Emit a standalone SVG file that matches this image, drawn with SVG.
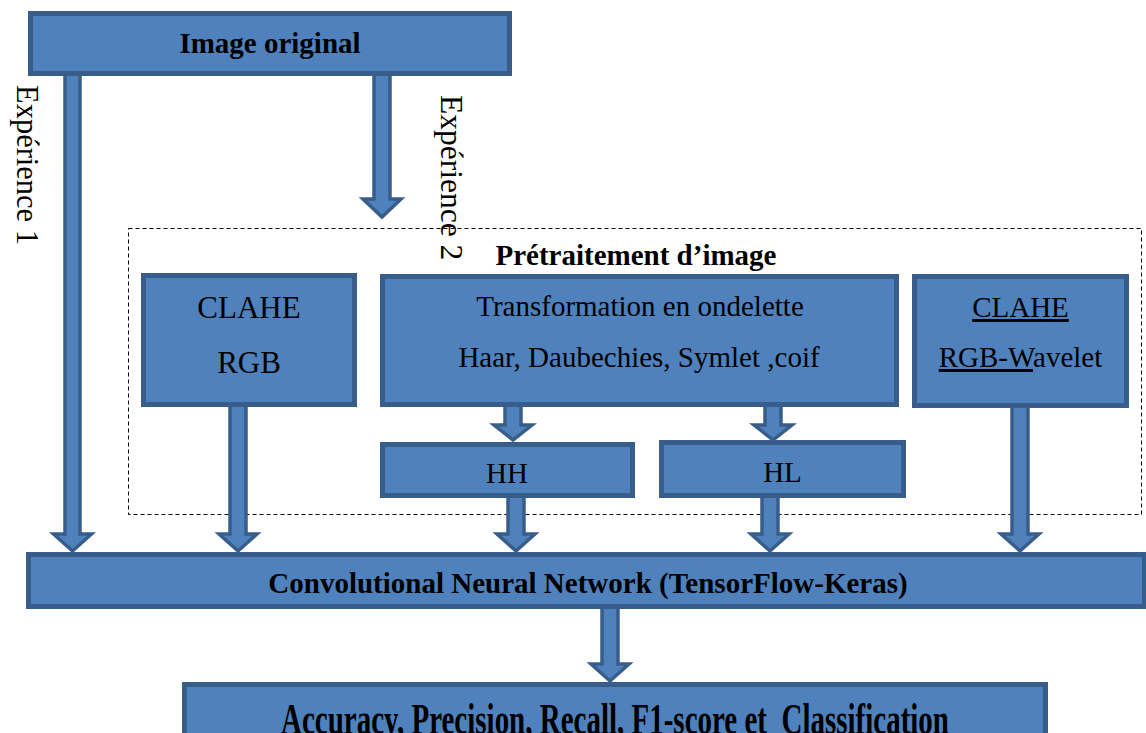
<svg xmlns="http://www.w3.org/2000/svg" width="1146" height="733" viewBox="0 0 1146 733">
<defs>
<style>
.box{fill:#4F81BD;stroke:#385D8A;stroke-width:5}
.arr{fill:#4F81BD;stroke:#385D8A;stroke-width:3.5;stroke-linejoin:miter}
.t{font-family:"Liberation Serif","Times New Roman",serif;fill:#000;text-anchor:middle}
.b{font-weight:bold;font-size:29px}
.r{font-size:29px}
.v{font-family:"Liberation Serif","Times New Roman",serif;font-size:30.5px;fill:#000}
</style>
</defs>
<rect width="1146" height="733" fill="#fff"/>
<g id="preprocessing-group">
<rect x="128.5" y="228.5" width="1013" height="286" fill="none" stroke="#000" stroke-width="1" stroke-dasharray="4,3"/>
<text class="t b" x="636" y="265">Prétraitement d’image</text>
</g>
<g id="connectors">
<path class="arr" d="M65,74 H80 V534 H91.5 L72.5,551 L53.5,534 H65 Z"/>
<path class="arr" d="M374,74 H390 V199 H401 L382,217 L363,199 H374 Z"/>
<path class="arr" d="M230,405 H246 V534 H257 L238,551 L219,534 H230 Z"/>
<path class="arr" d="M505,405 H521 V425 H532 L513,440 L494,425 H505 Z"/>
<path class="arr" d="M765,405 H781 V425 H792 L773,440 L754,425 H765 Z"/>
<path class="arr" d="M508,496 H524 V534 H535 L516,551 L497,534 H508 Z"/>
<path class="arr" d="M762,496 H778 V534 H789 L770,551 L751,534 H762 Z"/>
<path class="arr" d="M1012,406 H1028 V534 H1039 L1020,551 L1001,534 H1012 Z"/>
<path class="arr" d="M602,604 H618 V664 H629 L610,681 L591,664 H602 Z"/>
<text class="v" transform="translate(17,85) rotate(90)">Expérience 1</text>
<text class="v" transform="translate(441,95) rotate(90)" style="font-size:31.5px">Expérience 2</text>
</g>
<g id="image-original">
<rect class="box" x="30.5" y="13.5" width="479" height="60"/>
<text class="t b" x="270" y="53">Image original</text>
</g>
<g id="clahe-rgb">
<rect class="box" x="143.5" y="275.5" width="211" height="129"/>
<text class="t" x="249" y="318" style="font-size:31px">CLAHE</text>
<text class="t" x="249" y="373" style="font-size:31px">RGB</text>
</g>
<g id="wavelet">
<rect class="box" x="382.5" y="276.5" width="514" height="128"/>
<text class="t r" x="640" y="316">Transformation en ondelette</text>
<text class="t r" x="639" y="367">Haar, Daubechies, Symlet ,coif</text>
</g>
<g id="clahe-rgb-wavelet">
<rect class="box" x="914.5" y="276.5" width="212" height="129"/>
<text class="t r" x="1020.5" y="317" text-decoration="underline">CLAHE</text>
<text class="t r" x="1020.5" y="367"><tspan text-decoration="underline">RGB-W</tspan>avelet</text>
</g>
<g id="hh">
<rect class="box" x="382.5" y="444.5" width="250" height="51"/>
<text class="t r" x="507" y="483">HH</text>
</g>
<g id="hl">
<rect class="box" x="661.5" y="442.5" width="242" height="53"/>
<text class="t r" x="782.5" y="482">HL</text>
</g>
<g id="cnn">
<rect class="box" x="28.5" y="554.5" width="1116" height="52"/>
<text class="t b" x="588" y="593">Convolutional Neural Network (TensorFlow-Keras)</text>
</g>
<g id="metrics">
<rect class="box" x="184.5" y="684.5" width="861" height="60"/>
<text class="t b" transform="translate(615,733.5) scale(1,1.5)" x="0" y="0" xml:space="preserve">Accuracy, Precision, Recall, F1-score et  Classification</text>
</g>
</svg>
